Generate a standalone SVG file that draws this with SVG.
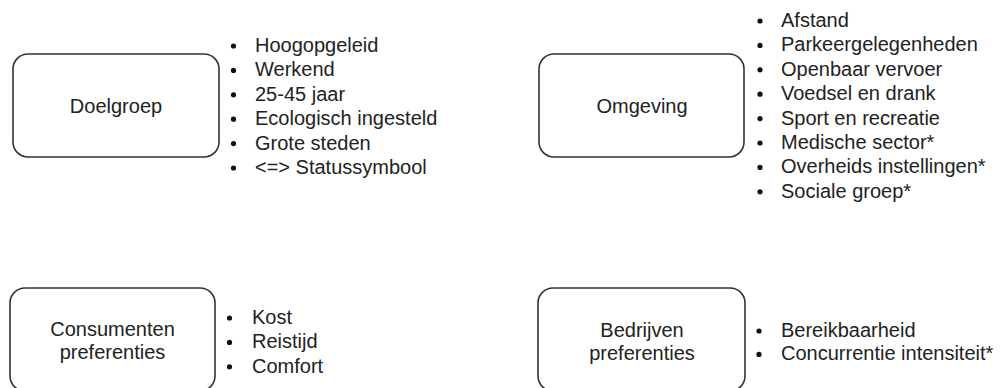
<svg xmlns="http://www.w3.org/2000/svg" width="1000" height="388" viewBox="0 0 1000 388">
<style>
.box{fill:#fff;stroke:#333;stroke-width:1.6}
.lbl{font-family:"Liberation Sans",Arial,sans-serif;font-size:20px;fill:#222;text-anchor:middle}
.li{font-family:"Liberation Sans",Arial,sans-serif;font-size:20px;fill:#222}
.dot{fill:#111}
</style>
<rect width="1000" height="388" fill="#fff"/>
<g id="doelgroep">
<rect class="box" x="13" y="54" width="206" height="103" rx="15"/>
<text class="lbl" x="116" y="113">Doelgroep</text>
</g>
<g id="doelgroep-list">
<circle class="dot" cx="233.5" cy="46" r="2.6"/><text class="li" x="255" y="52">Hoogopgeleid</text>
<circle class="dot" cx="233.5" cy="70.4" r="2.6"/><text class="li" x="255" y="76.4">Werkend</text>
<circle class="dot" cx="233.5" cy="94.8" r="2.6"/><text class="li" x="255" y="100.8">25-45 jaar</text>
<circle class="dot" cx="233.5" cy="119.2" r="2.6"/><text class="li" x="255" y="125.2">Ecologisch ingesteld</text>
<circle class="dot" cx="233.5" cy="143.6" r="2.6"/><text class="li" x="255" y="149.6">Grote steden</text>
<circle class="dot" cx="233.5" cy="168" r="2.6"/><text class="li" x="255" y="174">&lt;=&gt; Statussymbool</text>
</g>
<g id="omgeving">
<rect class="box" x="539" y="54" width="205" height="103" rx="15"/>
<text class="lbl" x="642" y="113">Omgeving</text>
</g>
<g id="omgeving-list">
<circle class="dot" cx="760" cy="21" r="2.6"/><text class="li" x="781" y="27">Afstand</text>
<circle class="dot" cx="760" cy="45.4" r="2.6"/><text class="li" x="781" y="51.4">Parkeergelegenheden</text>
<circle class="dot" cx="760" cy="69.8" r="2.6"/><text class="li" x="781" y="75.8">Openbaar vervoer</text>
<circle class="dot" cx="760" cy="94.2" r="2.6"/><text class="li" x="781" y="100.2">Voedsel en drank</text>
<circle class="dot" cx="760" cy="118.6" r="2.6"/><text class="li" x="781" y="124.6">Sport en recreatie</text>
<circle class="dot" cx="760" cy="143" r="2.6"/><text class="li" x="781" y="149">Medische sector*</text>
<circle class="dot" cx="760" cy="167.4" r="2.6"/><text class="li" x="781" y="173.4">Overheids instellingen*</text>
<circle class="dot" cx="760" cy="191.8" r="2.6"/><text class="li" x="781" y="197.8">Sociale groep*</text>
</g>
<g id="consumenten">
<rect class="box" x="10" y="288" width="205" height="103" rx="15"/>
<text class="lbl" x="112.5" y="336">Consumenten</text>
<text class="lbl" x="112.5" y="359">preferenties</text>
</g>
<g id="consumenten-list">
<circle class="dot" cx="229.5" cy="318" r="2.6"/><text class="li" x="252" y="324">Kost</text>
<circle class="dot" cx="229.5" cy="342.4" r="2.6"/><text class="li" x="252" y="348.4">Reistijd</text>
<circle class="dot" cx="229.5" cy="366.8" r="2.6"/><text class="li" x="252" y="372.8">Comfort</text>
</g>
<g id="bedrijven">
<rect class="box" x="538" y="288" width="207" height="103" rx="15"/>
<text class="lbl" x="642" y="337">Bedrijven</text>
<text class="lbl" x="642" y="360">preferenties</text>
</g>
<g id="bedrijven-list">
<circle class="dot" cx="759" cy="331" r="2.6"/><text class="li" x="781" y="337">Bereikbaarheid</text>
<circle class="dot" cx="759" cy="354.4" r="2.6"/><text class="li" x="781" y="360.4">Concurrentie intensiteit*</text>
</g>
<g id="connectors"></g>
</svg>
